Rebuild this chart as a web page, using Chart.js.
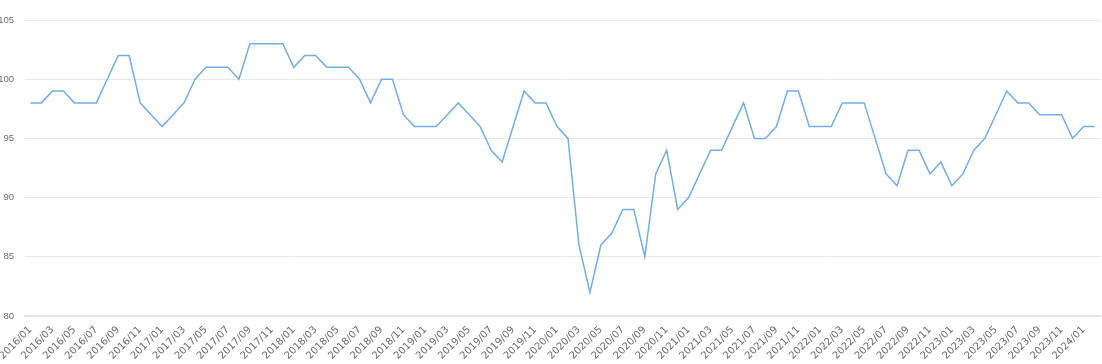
<!DOCTYPE html>
<html lang="en">
<head>
    <meta charset="UTF-8">
    <title>Monthly index</title>
    <script src="https://cdn.jsdelivr.net/npm/chart.js"></script>
    <style>
        html, body { margin: 0; padding: 0; background: #fff; }
        .wrap { width: 1102px; height: 364px; position: relative; }
    </style>
</head>
<body>
    <div class="wrap"><canvas id="lineChart"></canvas></div>

    <script>
        // months 2016/01 .. 2024/02
        const months = [];
        for (let y = 2016; y <= 2024; y++) {
            for (let m = 1; m <= 12; m++) {
                if (y === 2024 && m > 2) break;
                months.push(y + '/' + String(m).padStart(2, '0'));
            }
        }

        const values2016 = [98, 98, 99, 99, 98, 98, 98, 100, 102, 102, 98, 97];
        const values2017 = [96, 97, 98, 100, 101, 101, 101, 100, 103, 103, 103, 103];
        const values2018 = [101, 102, 102, 101, 101, 101, 100, 98, 100, 100, 97, 96];
        const values2019 = [96, 96, 97, 98, 97, 96, 94, 93, 96, 99, 98, 98];
        const values2020 = [96, 95, 86, 82, 86, 87, 89, 89, 85, 92, 94, 89];
        const values2021 = [90, 92, 94, 94, 96, 98, 95, 95, 96, 99, 99, 96];
        const values2022 = [96, 96, 98, 98, 98, 95, 92, 91, 94, 94, 92, 93];
        const values2023 = [91, 92, 94, 95, 97, 99, 98, 98, 97, 97, 97, 95];
        const values2024 = [96, 96];

        const indexValues = [].concat(values2016, values2017, values2018, values2019,
            values2020, values2021, values2022, values2023, values2024);

        const yTicks = [80, 85, 90, 95, 100, 105];

        const ctx = document.getElementById('lineChart').getContext('2d');
        new Chart(ctx, {
            type: 'line',
            data: {
                labels: months,
                datasets: [{
                    data: indexValues,
                    borderColor: '#74ade3',
                    borderWidth: 1.5,
                    pointRadius: 0,
                    tension: 0,
                    fill: false
                }]
            },
            options: {
                responsive: true,
                maintainAspectRatio: false,
                animation: false,
                layout: { padding: { top: 20, right: 2, left: 0, bottom: 0 } },
                plugins: {
                    legend: { display: false },
                    tooltip: { enabled: false }
                },
                scales: {
                    x: {
                        offset: true,
                        grid: { display: false, drawTicks: false },
                        border: { display: true, color: '#e0e0e8', width: 2 },
                        afterFit: function (scale) {
                            scale.height = 48;
                            scale.paddingLeft = 0;
                            scale.paddingRight = 0;
                        },
                        ticks: {
                            autoSkip: false,
                            maxRotation: 45,
                            minRotation: 45,
                            padding: 8,
                            color: '#6a6a6a',
                            font: { family: 'DejaVu Sans', size: 10 },
                            callback: function (val, i) {
                                return i % 2 === 0 ? this.getLabelForValue(val) : '';
                            }
                        }
                    },
                    y: {
                        min: yTicks[0],
                        max: yTicks[yTicks.length - 1],
                        afterFit: function (scale) { scale.width = 25; },
                        afterBuildTicks: function (scale) {
                            scale.ticks = yTicks.map(v => ({ value: v }));
                        },
                        grid: { color: '#e8e8e8', drawTicks: false },
                        border: { display: false },
                        ticks: {
                            padding: 11,
                            color: '#6a6a6a',
                            font: { family: 'Liberation Sans', size: 9.5 }
                        }
                    }
                }
            }
        });
    </script>
</body>
</html>
